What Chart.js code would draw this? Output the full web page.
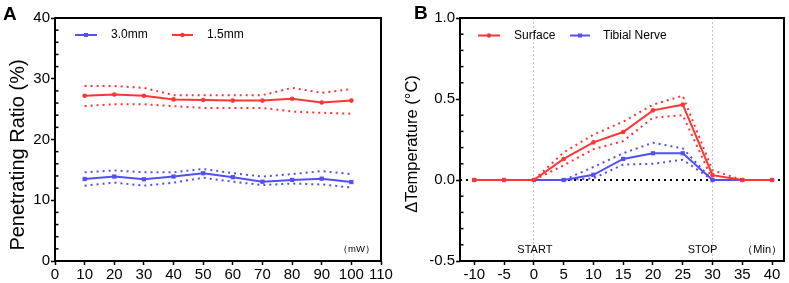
<!DOCTYPE html>
<html><head><meta charset="utf-8">
<script src="https://cdn.jsdelivr.net/npm/chart.js@4/dist/chart.umd.min.js"></script>
<style>
html,body{margin:0;padding:0;background:#fff;}
#wrap{position:relative;width:789px;height:283px;overflow:hidden;background:#fff;}
.panel{position:absolute;font:bold 19px "Liberation Sans",Arial,sans-serif;color:#000;line-height:1;}
canvas{position:absolute;top:0;}
</style></head><body>
<div id="wrap">
<canvas id="cA" width="395" height="283" style="left:0"></canvas>
<canvas id="cB" width="395" height="283" style="left:394px"></canvas>
<div class="panel" style="left:3px;top:4px">A</div>
<div class="panel" style="left:414px;top:3px">B</div>
</div>
<script>
// ---------- Panel A data ----------
const powerLevels = [10, 20, 30, 40, 50, 60, 70, 80, 90, 100];
const ratio30Mean  = [13.5, 13.9, 13.45, 13.9, 14.45, 13.8, 13.05, 13.35, 13.55, 13.0];
const ratio30Upper = [14.6, 14.9, 14.6, 14.6, 15.15, 14.45, 13.9, 14.3, 14.8, 14.3];
const ratio30Lower = [12.4, 12.9, 12.4, 12.9, 13.7, 13.05, 12.5, 12.75, 12.6, 12.1];
const ratio15Mean  = [27.2, 27.4, 27.2, 26.6, 26.5, 26.4, 26.4, 26.7, 26.1, 26.4];
const ratio15Upper = [28.8, 28.8, 28.5, 27.3, 27.3, 27.3, 27.3, 28.5, 27.7, 28.3];
const ratio15Lower = [25.5, 25.8, 25.8, 25.5, 25.2, 25.2, 25.2, 24.6, 24.4, 24.25];

// ---------- Panel B data ----------
const timePoints = [-10, -5, 0, 5, 10, 15, 20, 25, 30, 35, 40];
const timeTicks  = [-10, -5, 0, 5, 10, 15, 20, 25, 30, 35, 40];
const surfaceMean  = [0, 0, 0, 0.13, 0.232, 0.296, 0.43, 0.465, 0.03, 0, 0];
const surfaceUpper = [0, 0, 0, 0.17, 0.28, 0.36, 0.465, 0.52, 0.06, 0, 0];
const surfaceLower = [0, 0, 0, 0.09, 0.19, 0.24, 0.385, 0.40, 0.0, 0, 0];
const tibialMean   = [0, 0, 0, 0, 0.032, 0.13, 0.165, 0.165, 0, 0, 0];
const tibialUpper  = [0, 0, 0, 0, 0.08, 0.165, 0.23, 0.195, 0, 0, 0];
const tibialLower  = [0, 0, 0, 0, 0.01, 0.095, 0.1, 0.125, 0, 0, 0];

const legendA = ['3.0mm', '1.5mm'];
const legendB = ['Surface', 'Tibial Nerve'];

const RED = '#ff3535';
const BLUE = '#5050f5';
const FONT = '"Liberation Sans", Arial, Helvetica, sans-serif';
Chart.defaults.font.family = FONT;
Chart.defaults.color = '#000';

const pts = (xs, ys) => xs.map((x, i) => ({x, y: ys[i]}));
function mainLine(xs, ys, color, style) {
  return {data: pts(xs, ys), borderColor: color, backgroundColor: color, borderWidth: 2,
    pointStyle: style, pointRadius: style === 'rect' ? 3 : 2.3, pointBorderWidth: 0, tension: 0};
}
function dotLine(xs, ys, color) {
  return {data: pts(xs, ys), borderColor: color, backgroundColor: color, borderWidth: 2,
    borderDash: [2, 4], pointRadius: 0, tension: 0};
}

const deco = {
  id: 'deco',
  afterDatasetsDraw(chart, args, o) {
    const {ctx, chartArea: a, scales} = chart;
    ctx.save();
    // minor ticks (inward) on y axis
    const ys = scales.y;
    ctx.strokeStyle = '#000';
    ctx.lineWidth = 1.5;
    const n = Math.round((ys.max - ys.min) / o.minorStep);
    const ratio = Math.round(o.majorStep / o.minorStep);
    for (let i = 0; i <= n; i++) {
      if (i % ratio === 0) continue;
      const v = ys.min + i * o.minorStep;
      const py = ys.getPixelForValue(v);
      ctx.beginPath(); ctx.moveTo(a.left, py); ctx.lineTo(a.left + 3.5, py); ctx.stroke();
    }
    // frame
    ctx.lineWidth = 2;
    ctx.strokeRect(a.left, a.top, a.right - a.left, a.bottom - a.top);
    // y axis title
    const t = o.title;
    ctx.save();
    ctx.translate(t.x, a.bottom - t.fromBottom);
    ctx.rotate(-Math.PI / 2);
    ctx.font = t.size + 'px ' + FONT;
    ctx.fillStyle = '#000';
    ctx.textAlign = 'center';
    ctx.textBaseline = 'middle';
    ctx.fillText(t.text, 0, 0);
    ctx.restore();
    // legend
    ctx.font = '12px ' + FONT;
    ctx.textBaseline = 'middle';
    ctx.textAlign = 'left';
    o.legend.forEach(it => {
      const y = a.top + it.dy;
      ctx.strokeStyle = it.color; ctx.fillStyle = it.color; ctx.lineWidth = 2;
      ctx.beginPath(); ctx.moveTo(a.left + it.x1, y); ctx.lineTo(a.left + it.x2, y); ctx.stroke();
      const cx = a.left + (it.x1 + it.x2) / 2;
      if (it.style === 'rect') ctx.fillRect(cx - 2, y - 2, 4, 4);
      else { ctx.beginPath(); ctx.arc(cx, y, 2.2, 0, Math.PI * 2); ctx.fill(); }
      ctx.fillStyle = '#000';
      ctx.fillText(it.text, a.left + it.tx, y);
    });
    // notes
    (o.notes || []).forEach(nt => {
      ctx.font = nt.size + 'px ' + FONT;
      ctx.fillStyle = '#000';
      ctx.textAlign = nt.align;
      ctx.textBaseline = 'middle';
      const x = nt.xVal !== undefined ? scales.x.getPixelForValue(nt.xVal) + (nt.dx || 0) : a.right + nt.dx;
      ctx.fillText(nt.text, x, a.bottom + nt.dy);
    });
    ctx.restore();
  }
};

// ---------- Chart A ----------
new Chart(document.getElementById('cA'), {
  type: 'line',
  data: {datasets: [
    mainLine(powerLevels, ratio15Mean, RED, 'circle'),
    mainLine(powerLevels, ratio30Mean, BLUE, 'rect'),
    dotLine(powerLevels, ratio15Upper, RED),
    dotLine(powerLevels, ratio15Lower, RED),
    dotLine(powerLevels, ratio30Upper, BLUE),
    dotLine(powerLevels, ratio30Lower, BLUE)
  ]},
  options: {
    responsive: false, animation: false,
    layout: {padding: {top: 18, right: 14, left: 0, bottom: 0}},
    plugins: {legend: {display: false}, tooltip: {enabled: false},
      deco: {minorStep: 2, majorStep: 10,
        title: {text: 'Penetrating Ratio (%)', size: 20, x: 18, fromBottom: 106},
        legend: [
          {x1: 20, x2: 42, tx: 56, dy: 17, color: BLUE, style: 'rect', text: legendA[0]},
          {x1: 117, x2: 138, tx: 152, dy: 17, color: RED, style: 'circle', text: legendA[1]}
        ],
        notes: [{text: '（mW）', size: 9.5, align: 'right', dx: -6, dy: -12}]
      }},
    scales: {
      x: {type: 'linear', min: 0, max: 110,
        ticks: {stepSize: 10, font: {size: 15}, padding: 1, maxRotation: 0},
        grid: {drawOnChartArea: false, tickLength: 4, tickColor: '#000', tickWidth: 1.5},
        border: {display: false},
        afterFit: s => { s.height = 22; }
      },
      y: {min: 0, max: 40,
        ticks: {stepSize: 10, font: {size: 15}, padding: 1},
        grid: {drawOnChartArea: false, tickLength: 4, tickColor: '#000', tickWidth: 1.5},
        border: {display: false},
        afterFit: s => { s.width = 55; }
      }
    }
  },
  plugins: [deco]
});

// ---------- Chart B ----------
const xMinB = -12.4, xMaxB = 42;
new Chart(document.getElementById('cB'), {
  type: 'line',
  data: {datasets: [
    mainLine(timePoints, surfaceMean, RED, 'circle'),
    mainLine(timePoints, tibialMean, BLUE, 'rect'),
    dotLine(timePoints, surfaceUpper, RED),
    dotLine(timePoints, surfaceLower, RED),
    dotLine(timePoints, tibialUpper, BLUE),
    dotLine(timePoints, tibialLower, BLUE),
    {data: [{x: xMinB, y: 0}, {x: xMaxB, y: 0}], borderColor: '#000', borderWidth: 2,
      borderDash: [2, 4], pointRadius: 0}
  ]},
  options: {
    responsive: false, animation: false,
    layout: {padding: {top: 18, right: 5, left: 0, bottom: 0}},
    plugins: {legend: {display: false}, tooltip: {enabled: false},
      deco: {minorStep: 0.1, majorStep: 0.5,
        title: {text: 'ΔTemperature (°C)', size: 16.5, x: 18.5, fromBottom: 117},
        legend: [
          {x1: 18, x2: 40, tx: 54, dy: 17.5, color: RED, style: 'circle', text: legendB[0]},
          {x1: 110, x2: 130, tx: 143, dy: 17.5, color: BLUE, style: 'rect', text: legendB[1]}
        ],
        notes: [
          {text: 'START', size: 11, align: 'center', xVal: 0, dx: 1, dy: -11},
          {text: 'STOP', size: 11, align: 'center', xVal: 30, dx: -10, dy: -11},
          {text: '（Min）', size: 11, align: 'right', dx: -2, dy: -11}
        ]
      }},
    scales: {
      x: {type: 'linear', min: xMinB, max: xMaxB,
        afterBuildTicks: s => { s.ticks = timeTicks.map(v => ({value: v})); },
        ticks: {font: {size: 15}, padding: 1, maxRotation: 0, autoSkip: false},
        grid: {drawOnChartArea: true, lineWidth: 1,
          color: c => (c.tick && (c.tick.value === 0 || c.tick.value === 30)) ? '#c4c4c4' : 'rgba(0,0,0,0)',
          tickLength: 4, tickColor: '#000', tickWidth: 1.5},
        border: {display: false, dash: c => c.type === 'tick' ? [2, 2] : []},
        afterFit: s => { s.height = 22; }
      },
      y: {min: -0.5, max: 1.0,
        ticks: {stepSize: 0.5, font: {size: 15}, padding: 1, callback: v => Number(v).toFixed(1)},
        grid: {drawOnChartArea: false, tickLength: 4, tickColor: '#000', tickWidth: 1.5},
        border: {display: false},
        afterFit: s => { s.width = 66; }
      }
    }
  },
  plugins: [deco]
});
</script>
</body></html>
